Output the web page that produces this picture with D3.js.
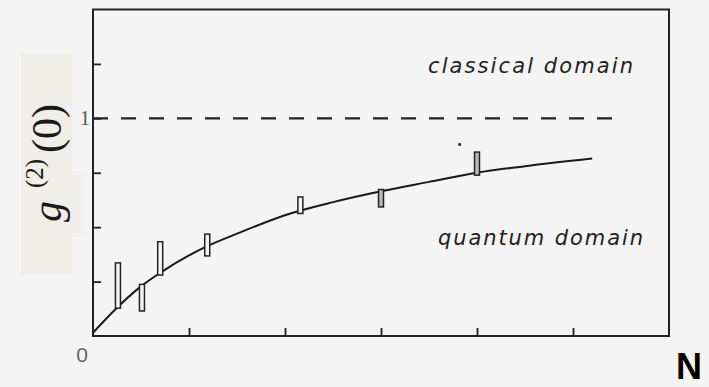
<!DOCTYPE html>
<html>
<head>
<meta charset="utf-8">
<script src="https://cdn.jsdelivr.net/npm/d3@7/dist/d3.min.js"></script>
<style>
  html, body { margin: 0; padding: 0; background: #f4f4f4; }
  svg { display: block; }
</style>
</head>
<body>
<script>
// Photon-number dependence of g2(0): model curve and measured intervals
const xTicks = [1, 2, 3, 4, 5];
const yTicks = [0.25, 0.5, 0.75, 1, 1.25];

// model curve (N, g2)
const curveN = [0, 0.25, 0.5, 0.7, 1.0, 1.2, 1.5, 2.0, 2.5, 3.0, 3.5, 4.0, 4.5, 5.2];
const curveG = [0.015, 0.13, 0.228, 0.29, 0.37, 0.415, 0.47, 0.555, 0.615, 0.665, 0.708, 0.75, 0.78, 0.815];

// measured intervals (N, lower, upper)
const barN    = [0.26, 0.51, 0.70, 1.19, 2.16, 3.0, 4.0];
const barLow  = [0.128, 0.115, 0.28, 0.368, 0.563, 0.593, 0.739];
const barHigh = [0.336, 0.237, 0.433, 0.468, 0.639, 0.673, 0.845];
const barShaded = [false, false, false, false, false, true, true];

// isolated point above the last interval
const dotN = [3.82];
const dotG = [0.88];

const classicalLimit = 1;
const limitEnd = 5.49;

const W = 709, H = 387;
const svg = d3.select("body").append("svg").attr("width", W).attr("height", H);

svg.append("rect").attr("width", W).attr("height", H).attr("fill", "#f4f4f4");

const x = d3.scaleLinear().domain([0, 6]).range([93, 669]);
const y = d3.scaleLinear().domain([0, 1.5]).range([336, 9.5]);

// y-label background panels
svg.append("rect").attr("x", 21).attr("y", 53).attr("width", 51).attr("height", 222).attr("fill", "#f0eee8");
svg.append("rect").attr("x", 21).attr("y", 175).attr("width", 63).attr("height", 58).attr("fill", "#f0eee8");

// frame
svg.append("rect")
  .attr("x", x(0)).attr("y", y(1.5))
  .attr("width", x(6) - x(0)).attr("height", y(0) - y(1.5))
  .attr("fill", "none").attr("stroke", "#222").attr("stroke-width", 2);

// ticks drawn inward via axes
const xAxis = d3.axisTop(x).tickValues(xTicks).tickSize(8).tickFormat("");
svg.append("g").attr("transform", `translate(0,${y(0)})`).call(xAxis)
  .call(g => g.select(".domain").remove())
  .selectAll("line").attr("stroke", "#222").attr("stroke-width", 1.8);

const yAxis = d3.axisRight(y).tickValues(yTicks).tickSize(8).tickFormat("");
svg.append("g").attr("transform", `translate(${x(0)},0)`).call(yAxis)
  .call(g => g.select(".domain").remove())
  .selectAll("line").attr("stroke", "#222").attr("stroke-width", 1.8);

// classical limit g2 = 1
svg.append("line")
  .attr("x1", x(0)).attr("x2", x(limitEnd))
  .attr("y1", y(classicalLimit)).attr("y2", y(classicalLimit))
  .attr("stroke", "#222").attr("stroke-width", 2.2)
  .attr("stroke-dasharray", "15,13");

// model curve
const pts = curveN.map((n, i) => [n, curveG[i]]);
svg.append("path")
  .datum(pts)
  .attr("d", d3.line().x(d => x(d[0])).y(d => y(d[1])).curve(d3.curveMonotoneX))
  .attr("fill", "none").attr("stroke", "#1a1a1a").attr("stroke-width", 2);

// measured intervals
const bars = barN.map((n, i) => ({ n, lo: barLow[i], hi: barHigh[i], shaded: barShaded[i] }));
svg.append("g").selectAll("rect").data(bars).join("rect")
  .attr("x", d => x(d.n) - 2.5)
  .attr("y", d => y(d.hi))
  .attr("width", 5)
  .attr("height", d => y(d.lo) - y(d.hi))
  .attr("fill", d => d.shaded ? "#b8b8b8" : "#f4f4f4")
  .attr("stroke", "#222").attr("stroke-width", 1.5);

svg.append("g").selectAll("circle").data(dotN.map((n, i) => [n, dotG[i]])).join("circle")
  .attr("cx", d => x(d[0])).attr("cy", d => y(d[1])).attr("r", 1.6).attr("fill", "#333");

// domain annotations
svg.append("text").attr("x", 428).attr("y", 73)
  .attr("textLength", 205).attr("lengthAdjust", "spacing")
  .attr("font-family", "DejaVu Sans").attr("font-style", "italic").attr("font-size", 21)
  .attr("fill", "#222").text("classical domain");
svg.append("text").attr("x", 438).attr("y", 245)
  .attr("textLength", 205).attr("lengthAdjust", "spacing")
  .attr("font-family", "DejaVu Sans").attr("font-style", "italic").attr("font-size", 21)
  .attr("fill", "#222").text("quantum domain");

// tick labels
svg.append("text").attr("x", 85).attr("y", 125).attr("text-anchor", "middle")
  .attr("font-family", "Liberation Serif").attr("font-size", 20).attr("fill", "#555").text("1");
svg.append("text").attr("x", 82).attr("y", 362).attr("text-anchor", "middle")
  .attr("font-family", "Liberation Sans").attr("font-size", 21).attr("fill", "#666").text("0");
svg.append("text").attr("x", 676).attr("y", 379)
  .attr("font-family", "Liberation Sans").attr("font-weight", "bold").attr("font-size", 36)
  .attr("fill", "#000").text("N");

// y-axis label g^(2)(0)
const ylab = svg.append("g").attr("transform", "translate(61,222) rotate(-90)");
ylab.append("text").attr("x", 0).attr("y", 0)
  .attr("font-family", "Liberation Serif").attr("font-style", "italic").attr("font-size", 42)
  .attr("fill", "#1a1a1a").text("g");
ylab.append("text").attr("x", 34).attr("y", -18)
  .attr("font-family", "Liberation Serif").attr("font-size", 25)
  .attr("fill", "#1a1a1a").text("(2)");
ylab.append("text").attr("x", 69).attr("y", 0)
  .attr("font-family", "Liberation Serif").attr("font-size", 42)
  .attr("fill", "#1a1a1a").text("(0)");
</script>
</body>
</html>
